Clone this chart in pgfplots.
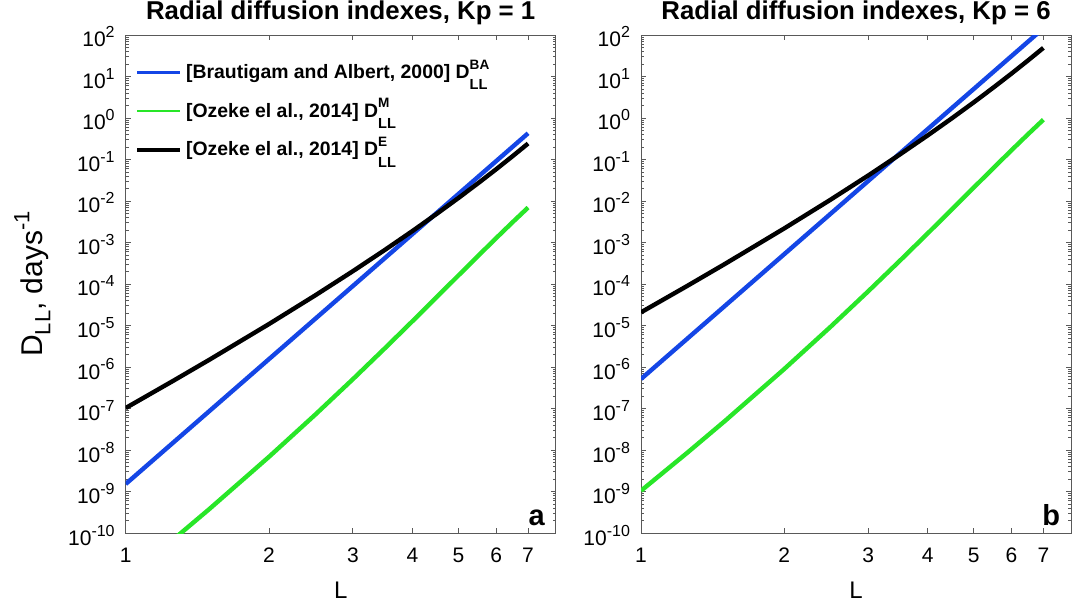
\documentclass[border=0pt]{standalone}
\usepackage{fontspec}
\setmainfont{Liberation Sans}
\usepackage{pgfplots}
\pgfplotsset{compat=1.18}

\definecolor{baBlue}{RGB}{20,70,230}
\definecolor{mGreen}{RGB}{40,230,40}

% D with stacked super- and subscript (legend)
\newcommand{\DLL}[1]{D\rlap{\raisebox{4.6pt}{\fontsize{6.8}{7}\selectfont #1}}%
  \raisebox{-5.6pt}{\fontsize{7.3}{8}\selectfont LL}}
% legend entry with fixed height/depth so the sample line sits at cap middle
\newcommand{\lent}[1]{\raisebox{0pt}[7.5pt][0pt]{#1}}

% minor ticks of the log y axis
\def\yminor{1e-10}
\foreach \e in {-10,...,1}{\foreach \m in {2,...,9}{\xdef\yminor{\yminor,\m e\e}}}

\pgfplotsset{
  mypanel/.style={
    scale only axis, width=215pt, height=249pt,
    xmin=1, xmax=8, ymin=1e-10, ymax=1e2,
    xtick={1,2,3,4,5,6,7}, xticklabels={1,2,3,4,5,6,7},
    xminorticks=false,
    ytick={1e-10,1e-9,1e-8,1e-7,1e-6,1e-5,1e-4,1e-3,1e-2,1e-1,1,1e1,1e2},
    minor ytick/.expanded={\yminor},
    yticklabel={10\raisebox{4.5pt}{\fontsize{8}{9}\selectfont\pgfmathparse{int(round(\tick))}\pgfmathresult}},
    tick align=inside,
    major tick length=2.6pt, minor tick length=1.5pt,
    axis line style={black!65, line width=0.5pt},
    every tick/.style={black!65, line width=0.4pt},
    tick label style={font=\fontsize{10.5}{12}\selectfont},
    yticklabel style={xshift=-2pt, yshift=-1pt},
    xticklabel shift=4pt,
    title style={font=\bfseries\fontsize{12.9}{14}\selectfont,
                 at={(axis description cs:0.5,1)}, anchor=base, yshift=2pt},
    xlabel={L},
    xlabel style={font=\fontsize{12}{13}\selectfont,
                  at={(axis description cs:0.5,-0.1305)}, anchor=base},
  },
}

\begin{document}
\begin{tikzpicture}
\path[use as bounding box] (-62.85pt,-34.5pt) rectangle (476.65pt,266.5pt);

% ---- panel a: Kp = 1
\begin{axis}[
  xmode=log, ymode=log, log basis y=10,
  mypanel,
  title={Radial diffusion indexes, Kp = 1},
  ylabel={D\raisebox{-4pt}{\fontsize{11}{12}\selectfont LL}, days\raisebox{6.5pt}{\fontsize{11}{12}\selectfont -1}},
  ylabel style={font=\fontsize{15}{16}\selectfont,
                at={(axis description cs:-0.194,0.5)}, anchor=base},
  legend style={draw=none, fill=none,
    at={(axis description cs:0.0216,0.965)}, anchor=north west,
    inner sep=0pt, row sep=0pt, column sep=2.2pt,
    nodes={font=\bfseries\fontsize{9.7}{11}\selectfont,
           minimum height=19.4pt, inner xsep=0pt, inner ysep=0pt}},
  legend cell align=left,
  legend image code/.code={\draw[#1] (0pt,0pt) -- (21.5pt,0pt);},
]
\addlegendimage{baBlue, line width=1.7pt}
\addlegendentry{\lent{[Brautigam and Albert, 2000] \DLL{BA}}}
\addlegendimage{mGreen, line width=0.7pt}
\addlegendentry{\lent{[Ozeke el al., 2014] \DLL{M}}}
\addlegendimage{black, line width=1.7pt}
\addlegendentry{\lent{[Ozeke el al., 2014] \DLL{E}}}
\addplot[baBlue, line width=2.2pt, forget plot]
  coordinates {(1,1.517e-9) (7,0.4285)};
\addplot[mGreen, line width=2.2pt, forget plot]
  coordinates {
  (1,7.966e-12) (1.25,6.524e-11) (1.5,3.817e-10) (2,6.863e-9)
  (2.5,7.091e-8) (3,5.090e-7) (3.5,2.809e-6) (4,1.266e-5)
  (4.5,4.843e-5) (5,1.616e-4) (5.5,4.790e-4) (6,1.280e-3)
  (6.5,3.113e-3) (7,6.960e-3)};
\addplot[black, line width=2.2pt, forget plot]
  coordinates {
  (1,1.029e-7) (1.25,4.448e-7) (1.5,1.505e-6) (2,1.086e-5)
  (2.5,5.316e-5) (3,2.038e-4) (3.5,6.597e-4) (4,1.887e-3)
  (4.5,4.912e-3) (5,1.186e-2) (5.5,2.698e-2) (6,5.839e-2)
  (6.5,1.212e-1) (7,2.427e-1)};
\node[font=\bfseries\fontsize{14.5}{16}\selectfont, anchor=base east,
      inner sep=0pt, xshift=-5.3pt, yshift=4pt] at (rel axis cs:1,0) {a};
\end{axis}

% ---- panel b: Kp = 6
\begin{axis}[
  xmode=log, ymode=log, log basis y=10,
  mypanel,
  at={(257.65pt,0pt)},
  title={Radial diffusion indexes, Kp = 6},
]
\addplot[baBlue, line width=2.2pt] coordinates {(1,5.140e-7) (7,145.2)};
\addplot[mGreen, line width=2.2pt] coordinates {
  (1,1.043e-9) (1.25,8.541e-9) (1.5,4.997e-8) (2,8.985e-7)
  (2.5,9.284e-6) (3,6.664e-5) (3.5,3.678e-4) (4,1.657e-3)
  (4.5,6.340e-3) (5,2.116e-2) (5.5,6.271e-2) (6,0.1676)
  (6.5,0.4076) (7,0.9112)};
\addplot[black, line width=2.2pt] coordinates {
  (1,2.077e-5) (1.25,8.976e-5) (1.5,3.038e-4) (2,2.192e-3)
  (2.5,1.073e-2) (3,4.114e-2) (3.5,0.1332) (4,0.3809)
  (4.5,0.9914) (5,2.394) (5.5,5.446) (6,11.79)
  (6.5,24.46) (7,48.99)};
\node[font=\bfseries\fontsize{14.5}{16}\selectfont, anchor=base east,
      inner sep=0pt, xshift=-5.3pt, yshift=4pt] at (rel axis cs:1,0) {b};
\end{axis}
\end{tikzpicture}
\end{document}
